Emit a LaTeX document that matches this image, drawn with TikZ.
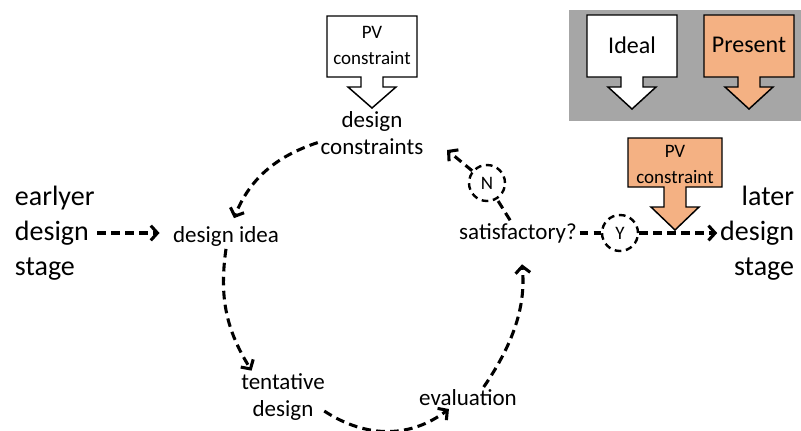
\documentclass[tikz,border=0pt]{standalone}
\usepackage{fontspec}
\setmainfont{Carlito}
\usetikzlibrary{arrows.meta}
\definecolor{pvorange}{RGB}{244,177,131}
\definecolor{legendgray}{RGB}{166,166,166}
% down callout: fill, centre x, top, box bottom, stem bottom, tip, half width
\newcommand{\downcallout}[7]{%
  \draw[line width=1.1pt, fill=#1] (#2-#7,#3) -- (#2+#7,#3) -- (#2+#7,#4) -- (#2+11,#4)
    -- (#2+11,#5) -- (#2+24,#5) -- (#2,#6) -- (#2-24,#5) -- (#2-11,#5) -- (#2-11,#4)
    -- (#2-#7,#4) -- cycle;}
\tikzset{
  flow/.style={line width=2.3pt, dash pattern=on 6.5pt off 4pt,
    -{Straight Barb[length=5pt,width=11pt]}},
  cyclelabel/.style={font=\fontsize{17.25}{20.25}\selectfont, align=center, inner sep=2pt},
  stagelabel/.style={font=\fontsize{21}{26.25}\selectfont, inner sep=2pt},
  boxlabel/.style={font=\fontsize{14.25}{19.5}\selectfont, align=center, inner sep=0pt},
  answer/.style={circle, draw, line width=1.8pt, dash pattern=on 5pt off 3.5pt,
    minimum size=27pt, inner sep=0pt, font=\fontsize{14.25}{16}\selectfont},
}
\begin{document}
\begin{tikzpicture}[x=0.75pt, y=-0.75pt]
  \useasboundingbox (0,0) rectangle (801,430);
  % legend
  \fill[legendgray] (569,10) rectangle (801,121);
  \foreach \cx/\fc/\lab in {632/white/Ideal, 749/pvorange/Present}{
    \downcallout{\fc}{\cx}{15}{77}{87}{109}{45}
    \node[font=\fontsize{18}{20}\selectfont] (legend\lab) at (\cx,45) {\lab};
  }
  % PV constraints
  \downcallout{white}{372}{16}{77}{87}{108}{45}
  \node[boxlabel] (pvtop) at (372,45) {PV\\constraint};
  \downcallout{pvorange}{675}{138}{187}{207}{230}{47}
  \node[boxlabel] (pvright) at (675,164) {PV\\constraint};
  % steps
  \node[cyclelabel] (cons) at (372,133) {design\\constraints};
  \node[cyclelabel] (idea) at (226,236) {design idea};
  \node[cyclelabel] (tent) at (283,397) {tentative\\design};
  \node[cyclelabel] (eval) at (468,398) {evaluation};
  \node[cyclelabel] (sat) at (518,233) {satisfactory?};
  \node[stagelabel, anchor=west, align=left] (early) at (12,233) {earlyer\\design\\stage};
  \node[stagelabel, anchor=east, align=right] (later) at (797,233) {later\\design\\stage};
  \node[answer] (no) at (487,183) {N};
  \node[answer] (yes) at (620,233) {Y};
  \coordinate (consin) at (447,150);
  % cycle
  \draw[flow, shorten >=4pt] (cons.190) to[bend right=25] (idea.65);
  \draw[flow] (idea.south) to[bend right=20] (tent.140);
  \draw[flow, shorten <=-3pt] (tent.-20) to[bend right=35] (eval.-150);
  \draw[flow, shorten >=14pt] (eval.35) to[bend right=20] (sat.-80);
  % decision
  \draw[flow, -] (sat) -- (no);
  \draw[flow] (no) -- (consin);
  \draw[flow, -] (sat) -- (yes);
  \draw[flow] (yes) -- (later);
  \draw[flow, shorten >=8pt] (early) -- (early -| idea.west);
\end{tikzpicture}
\end{document}
